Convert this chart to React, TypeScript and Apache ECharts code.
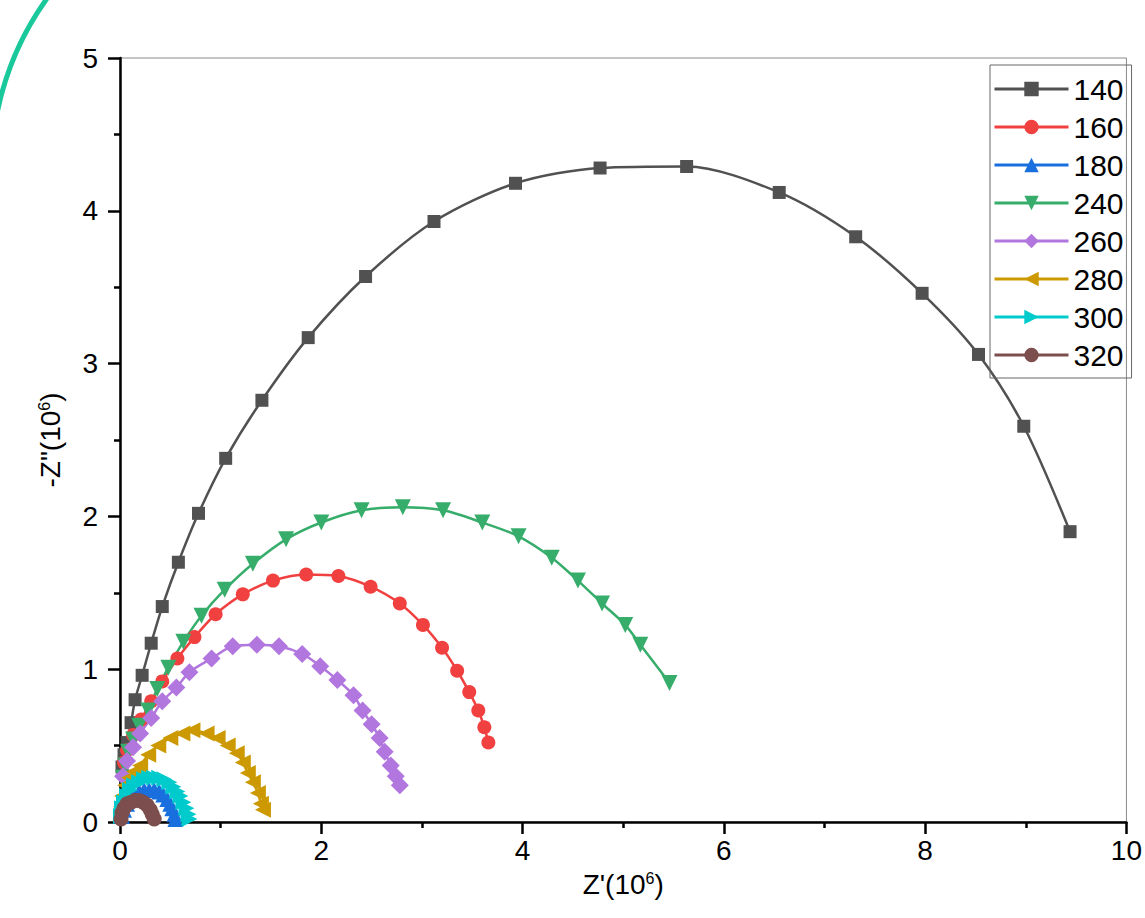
import React, { useEffect, useRef } from "react";
import * as echarts from "echarts";

const seriesNames = ["140", "160", "180", "240", "260", "280", "300", "320"];
const seriesColors = ["#515151", "#F14040", "#1A6FDF", "#37AD6B", "#B177DE", "#CC9900", "#00CBCC", "#7D4E4E"];

const s140 = [
  [0.02, 0.36], [0.04, 0.44], [0.07, 0.52], [0.11, 0.65], [0.15, 0.8], [0.22, 0.96], [0.31, 1.17],
  [0.42, 1.41], [0.58, 1.7], [0.78, 2.02], [1.05, 2.38], [1.41, 2.76], [1.87, 3.17], [2.44, 3.57],
  [3.12, 3.93], [3.93, 4.18], [4.77, 4.28], [5.63, 4.29], [6.55, 4.12], [7.31, 3.83], [7.97, 3.46],
  [8.53, 3.06], [8.98, 2.59], [9.44, 1.9],
];
const s160 = [
  [0.04, 0.39], [0.07, 0.47], [0.13, 0.57], [0.21, 0.67], [0.31, 0.79], [0.42, 0.92], [0.57, 1.07],
  [0.74, 1.21], [0.95, 1.36], [1.22, 1.49], [1.52, 1.58], [1.85, 1.62], [2.17, 1.61], [2.49, 1.54],
  [2.78, 1.43], [3.01, 1.29], [3.2, 1.14], [3.35, 0.99], [3.47, 0.85], [3.56, 0.73], [3.62, 0.62],
  [3.66, 0.52],
];
const s180 = [
  [0.02, 0.04], [0.04, 0.08], [0.07, 0.12], [0.1, 0.15], [0.14, 0.18], [0.19, 0.2], [0.24, 0.21],
  [0.29, 0.21], [0.34, 0.21], [0.39, 0.2], [0.43, 0.18], [0.47, 0.15], [0.5, 0.12], [0.52, 0.09],
  [0.54, 0.05], [0.55, 0.02],
];
const s240 = [
  [0.03, 0.29], [0.05, 0.37], [0.08, 0.46], [0.13, 0.54], [0.19, 0.63], [0.28, 0.73], [0.37, 0.87],
  [0.48, 1.01], [0.63, 1.18], [0.81, 1.35], [1.04, 1.52], [1.32, 1.69], [1.65, 1.85], [2.0, 1.96],
  [2.4, 2.04], [2.81, 2.06], [3.21, 2.04], [3.6, 1.96], [3.96, 1.87], [4.29, 1.73], [4.55, 1.58],
  [4.79, 1.43], [5.02, 1.29], [5.17, 1.16], [5.46, 0.91],
];
const s260 = [
  [0.03, 0.3], [0.07, 0.4], [0.13, 0.49], [0.2, 0.58], [0.31, 0.68], [0.42, 0.79], [0.56, 0.88],
  [0.69, 0.98], [0.91, 1.07], [1.12, 1.15], [1.36, 1.16], [1.58, 1.15], [1.81, 1.1], [1.99, 1.02],
  [2.16, 0.93], [2.32, 0.83], [2.41, 0.73], [2.5, 0.64], [2.58, 0.55], [2.63, 0.46], [2.69, 0.37],
  [2.74, 0.3], [2.78, 0.24],
];
const s280 = [
  [0.01, 0.1], [0.02, 0.17], [0.05, 0.24], [0.09, 0.29], [0.14, 0.33], [0.2, 0.37], [0.28, 0.44],
  [0.38, 0.5], [0.5, 0.55], [0.62, 0.58], [0.72, 0.6], [0.86, 0.58], [0.97, 0.55], [1.07, 0.5],
  [1.16, 0.45], [1.22, 0.39], [1.27, 0.32], [1.32, 0.26], [1.37, 0.19], [1.4, 0.12], [1.42, 0.08],
];
const s300 = [
  [0.01, 0.04], [0.02, 0.09], [0.04, 0.13], [0.07, 0.17], [0.1, 0.21], [0.14, 0.24], [0.19, 0.26],
  [0.24, 0.28], [0.29, 0.29], [0.34, 0.29], [0.39, 0.29], [0.44, 0.28], [0.49, 0.26], [0.53, 0.23],
  [0.57, 0.2], [0.6, 0.17], [0.63, 0.13], [0.66, 0.09], [0.68, 0.05], [0.69, 0.02],
];
const s320 = [
  [0.01, 0.02], [0.02, 0.06], [0.04, 0.09], [0.07, 0.12], [0.11, 0.13], [0.15, 0.14], [0.19, 0.14],
  [0.23, 0.13], [0.27, 0.11], [0.3, 0.08], [0.32, 0.05], [0.34, 0.02],
];

const seriesData = [s140, s160, s180, s240, s260, s280, s300, s320];
const symbols = ["rect", "circle", "triangle", "triangle", "diamond", "triangle", "triangle", "circle"];
const symbolRotates = [0, 0, 0, 180, 0, 90, -90, 0];
const symbolSizes = [13, 14, 16, 16, 18, 16, 16, 15];

const xTicks = { min: 0, max: 10, interval: 2 };
const yTicks = { min: 0, max: 5, interval: 1 };

const FONT = 'Arial, "Liberation Sans", sans-serif';

export default function App() {
  const ref = useRef<HTMLDivElement>(null);
  useEffect(() => {
    if (!ref.current) return;
    const chart = echarts.init(ref.current, undefined, { renderer: "svg" });
    const axisCommon = {
      type: "value",
      axisLine: { show: true, onZero: false, lineStyle: { color: "#000", width: 2.5 } },
      axisTick: { show: true, inside: false, length: 12, lineStyle: { color: "#000", width: 2.5 } },
      minorTick: { show: true, splitNumber: 2, length: 6, lineStyle: { color: "#000", width: 2.5 } },
      splitLine: { show: false },
      minorSplitLine: { show: false },
    };
    const supStyle = { fontSize: 16, verticalAlign: "top", padding: [0, 0, 12, 0], fontFamily: FONT, color: "#000" };
    const option = {
      animation: false,
      backgroundColor: "#fff",
      grid: {
        left: 120, right: 17, top: 58, bottom: 96,
        show: true, borderColor: "#8a8a8a", borderWidth: 1, backgroundColor: "transparent",
      },
      xAxis: {
        ...axisCommon,
        ...xTicks,
        axisLabel: { fontSize: 28, color: "#000", margin: 14, fontFamily: FONT },
        name: "Z'(10{sup|6})",
        nameLocation: "middle",
        nameGap: 48,
        nameTextStyle: { fontSize: 28, color: "#000", fontFamily: FONT, rich: { sup: supStyle } },
      },
      yAxis: {
        ...axisCommon,
        ...yTicks,
        axisLabel: { fontSize: 28, color: "#000", margin: 22, fontFamily: FONT },
        name: '-Z"(10{sup|6})',
        nameLocation: "middle",
        nameGap: 56,
        nameRotate: 90,
        nameTextStyle: { fontSize: 28, color: "#000", fontFamily: FONT, rich: { sup: supStyle } },
      },
      legend: {
        orient: "vertical",
        left: 990,
        top: 65,
        itemWidth: 74,
        itemHeight: 18,
        itemGap: 8,
        padding: [9, 8, 8, 3],
        borderColor: "#666",
        borderWidth: 1,
        lineStyle: { width: 3 },
        textStyle: { fontSize: 30, lineHeight: 28, color: "#000", fontFamily: FONT },
        data: seriesNames,
      },
      graphic: [
        {
          type: "arc",
          silent: true,
          shape: { cx: 291, cy: 173, r: 300, startAngle: 3.33, endAngle: 3.82, clockwise: true },
          style: { stroke: "#19C99B", lineWidth: 5, fill: "none" },
        },
      ],
      series: seriesNames.map((name, i) => ({
        name,
        type: "line",
        data: seriesData[i],
        smooth: 0.3,
        symbol: symbols[i],
        symbolSize: symbolSizes[i],
        symbolRotate: symbolRotates[i],
        showAllSymbol: true,
        color: seriesColors[i],
        lineStyle: { color: seriesColors[i], width: 2.5 },
        itemStyle: { color: seriesColors[i] },
        emphasis: { disabled: true },
        clip: false,
      })),
    };
    chart.setOption(option as any);
    return () => chart.dispose();
  }, []);
  return (
    <div
      ref={ref}
      style={{ position: "fixed", left: 0, top: 0, width: 1145, height: 918, background: "#fff" }}
    />
  );
}
